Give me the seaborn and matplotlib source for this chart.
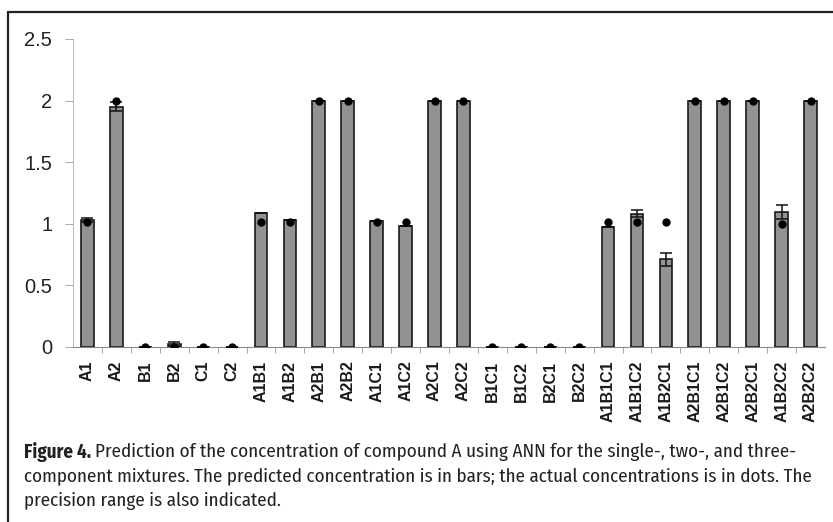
import matplotlib
matplotlib.use('Agg')
import matplotlib.pyplot as plt
import seaborn as sns
import numpy as np
import pandas as pd
from matplotlib import font_manager
from matplotlib.lines import Line2D

mixtures = ['A1', 'A2', 'B1', 'B2', 'C1', 'C2',
            'A1B1', 'A1B2', 'A2B1', 'A2B2', 'A1C1', 'A1C2', 'A2C1', 'A2C2',
            'B1C1', 'B1C2', 'B2C1', 'B2C2',
            'A1B1C1', 'A1B1C2', 'A1B2C1', 'A2B1C1', 'A2B1C2', 'A2B2C1', 'A1B2C2', 'A2B2C2']
# predicted concentration (bars)
predicted = [1.03, 1.95, 0.0, 0.02, 0.0, 0.0,
             1.09, 1.03, 2.0, 2.0, 1.02, 0.98, 2.0, 2.0,
             0.0, 0.0, 0.0, 0.0,
             0.97, 1.08, 0.71, 2.0, 2.0, 2.0, 1.095, 2.0]
# precision range (half width)
precision = [0.015, 0.035, 0.0, 0.015, 0.0, 0.0,
             0.0, 0.0, 0.0, 0.0, 0.0, 0.0, 0.0, 0.0,
             0.0, 0.0, 0.0, 0.0,
             0.0, 0.03, 0.055, 0.0, 0.0, 0.0, 0.055, 0.0]
# actual concentration (dots)
actual = [1.01, 2.0, 0.0, 0.0, 0.0, 0.0,
          1.01, 1.01, 2.0, 2.0, 1.01, 1.01, 2.0, 2.0,
          0.0, 0.0, 0.0, 0.0,
          1.01, 1.01, 1.01, 2.0, 2.0, 2.0, 1.0, 2.0]

caption = ['Prediction of the concentration of compound A using ANN for the single-, two-, and three-',
           'component mixtures. The predicted concentration is in bars; the actual concentrations is in dots. The',
           'precision range is also indicated.']

df = pd.DataFrame({'mixture': mixtures, 'predicted': predicted,
                   'precision': precision, 'actual': actual})

sns.set_style('white')
fonts = font_manager.fontManager.ttflist
names = {f.name for f in fonts}
axis_font = 'Liberation Sans' if 'Liberation Sans' in names else 'DejaVu Sans'
plt.rcParams['font.family'] = [axis_font, 'DejaVu Sans']


def weight_num(w):
    if isinstance(w, str):
        return font_manager.weight_dict.get(w, 400)
    return w


# narrow font for the caption (the print uses a condensed sans with a bold face)
narrow = {}
for f in fonts:
    if 'Narrow' in f.name or 'Condensed' in f.name:
        narrow.setdefault(f.name, set()).add(weight_num(f.weight))
preferred = ['Fira Sans Condensed', 'PT Sans Narrow', 'Open Sans Condensed', 'Roboto Condensed',
             'Asap Condensed', 'Barlow Semi Condensed', 'Cabin Condensed']
cap_font = 'Lato'
for n in preferred:
    if n in narrow and max(narrow[n]) >= 600:
        cap_font = n
        break
else:
    if narrow:
        ranked = sorted(narrow, key=lambda n: max(narrow[n]) >= 600, reverse=True)
        cap_font = ranked[0]
if cap_font not in names:
    cap_font = 'DejaVu Sans'

fig = plt.figure(figsize=(8.33, 5.22), dpi=100)
ax = fig.add_axes([73 / 833, 1 - 346.7 / 522, (825 - 73) / 833, (346.7 - 39) / 522])

sns.barplot(data=df, x='mixture', y='predicted', color='#929292', edgecolor='#1a1a1a',
            linewidth=1.2, width=0.44, saturation=1, ax=ax)
pos = np.arange(len(mixtures))
ax.errorbar(pos, df['predicted'], yerr=df['precision'], fmt='none', ecolor='#111111',
            elinewidth=1.1, capsize=4.5, capthick=1.1, zorder=4)
sns.stripplot(data=df, x='mixture', y='actual', jitter=False, color='black', size=6,
              linewidth=0, ax=ax, zorder=5)

ax.set_xlim(-0.5, len(mixtures) - 0.5)
ax.set_ylim(0, 2.5)
ax.set_yticks([0, 0.5, 1, 1.5, 2, 2.5])
ax.set_yticklabels(['0', '0.5', '1', '1.5', '2', '2.5'], fontsize=14.5, color='#222222')
ax.set_xlabel('')
ax.set_ylabel('')
ax.tick_params(axis='y', left=True, length=6, width=0.6, color='#999999', pad=9)
ax.set_xticks(pos)
ax.set_xticklabels(mixtures, rotation=90, fontsize=11.5, fontweight='bold', color='#1a1a1a')
ax.tick_params(axis='x', bottom=False, length=0, pad=10)
ax.set_xticks(pos[:-1] + 0.5, minor=True)
ax.tick_params(axis='x', which='minor', bottom=True, length=4, width=0.6, color='#999999')
for s in ['top', 'right']:
    ax.spines[s].set_visible(False)
ax.spines['left'].set_color('#bbbbbb')
ax.spines['left'].set_linewidth(0.7)
ax.spines['bottom'].set_color('#888888')
ax.spines['bottom'].set_linewidth(0.8)

# frame around the figure
fx = 8 / 833
fy = 1 - 12 / 522
fig.add_artist(Line2D([fx, fx], [0, fy], color='#222222', lw=1.6, transform=fig.transFigure))
fig.add_artist(Line2D([fx, 1], [fy, fy], color='#222222', lw=1.6, transform=fig.transFigure))

# caption, size fitted so the long line spans the box like in the print
renderer = fig.canvas.get_renderer()
probe = fig.text(0, 0, caption[1], fontsize=14, family=cap_font)
w = probe.get_window_extent(renderer=renderer).width
probe.remove()
cap_size = min(16.5, 14 * 792 / w)
cap_kw = dict(fontsize=cap_size, family=[cap_font, 'DejaVu Sans'], color='#222222', va='center')

cap_x = 24 / 833
lines_y = [1 - 452 / 522, 1 - 476.5 / 522, 1 - 501 / 522]
t = fig.text(cap_x, lines_y[0], 'Figure 4.', fontweight='bold', **cap_kw)
bb = t.get_window_extent(renderer=renderer)
fig.text(bb.x1 / 833 + 4 / 833, lines_y[0], caption[0], **cap_kw)
fig.text(cap_x, lines_y[1], caption[1], **cap_kw)
fig.text(cap_x, lines_y[2], caption[2], **cap_kw)

fig.savefig('out.png', dpi=100)
